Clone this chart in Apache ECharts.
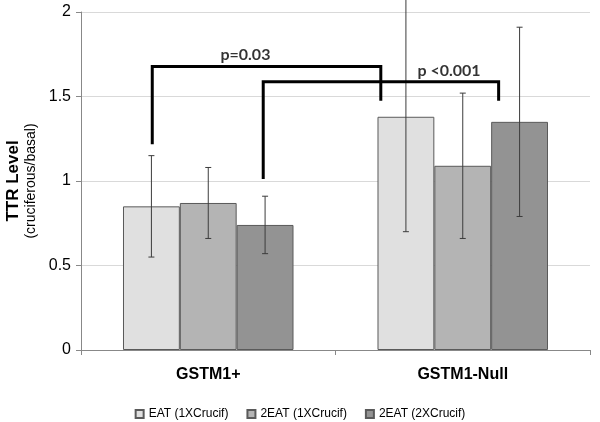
<!DOCTYPE html>
<html><head><meta charset="utf-8">
<script src="https://cdn.jsdelivr.net/npm/echarts@6/dist/echarts.min.js"></script>
<style>html,body{margin:0;padding:0;background:#fff}#c{width:600px;height:422px}</style>
</head><body><div id="c"></div>
<script>
// ---- data ----
const categories = ['GSTM1+', 'GSTM1-Null'];
const seriesNames = ['EAT (1XCrucif)', '2EAT (1XCrucif)', '2EAT (2XCrucif)'];
const eat1x   = [0.85, 1.38];
const eat2x1x = [0.87, 1.09];
const eat2x2x = [0.74, 1.35];
const errLow_eat1x   = [0.55, 0.70];
const errHigh_eat1x  = [1.15, 2.08];
const errLow_eat2x1x  = [0.66, 0.66];
const errHigh_eat2x1x = [1.08, 1.52];
const errLow_eat2x2x  = [0.57, 0.79];
const errHigh_eat2x2x = [0.91, 1.91];
const yTicks = [0, 0.5, 1, 1.5, 2];
// significance brackets: [x along categories (0..2), y value]
const bracket1 = [[0.280, 1.217], [0.280, 1.677], [1.178, 1.677], [1.178, 1.475]];
const bracket2 = [[0.716, 1.012], [0.716, 1.588], [1.641, 1.588], [1.641, 1.475]];
const bracketLabels = [['p=0.03', 0.646, 1.746], ['p <0.001', 1.446, 1.653]];

// ---- build ----
const values = [eat1x, eat2x1x, eat2x2x];
const lows = [errLow_eat1x, errLow_eat2x1x, errLow_eat2x2x];
const highs = [errHigh_eat1x, errHigh_eat2x1x, errHigh_eat2x2x];
const colors = ['#e0e0e0', '#b4b4b4', '#939393'];
const FONT = "'Liberation Sans', Arial, sans-serif";
const CAT_GAP = 0.33;

const errData = [];
for (let k = 0; k < 3; k++) for (let c = 0; c < categories.length; c++) errData.push([c, k, lows[k][c], highs[k][c]]);

const chart = echarts.init(document.getElementById('c'), null, {renderer: 'canvas'});
const barSeries = seriesNames.map((n, k) => ({
  name: n, type: 'bar', data: values[k], barGap: '0%', barCategoryGap: (CAT_GAP * 100) + '%',
  itemStyle: {color: colors[k], borderColor: '#5a5a5a', borderWidth: 1}, silent: true
}));

chart.setOption({
  animation: false,
  textStyle: {fontFamily: FONT},
  grid: {left: 81, right: 10, top: 12, bottom: 72, containLabel: false, outerBoundsMode: 'none'},
  legend: {
    data: seriesNames.map(n => ({name: n, icon: 'rect'})), left: 'center', top: 403,
    itemWidth: 8, itemHeight: 8, itemGap: 18,
    textStyle: {fontSize: 12, color: '#000', fontFamily: FONT}
  },
  xAxis: [{
    type: 'category', data: categories,
    axisLine: {lineStyle: {color: '#888'}},
    axisTick: {show: true, length: 5, lineStyle: {color: '#888'}},
    axisLabel: {fontSize: 16, fontWeight: 'bold', color: '#000', margin: 17, fontFamily: FONT}
  }, {
    type: 'value', min: 0, max: 2, show: false
  }],
  yAxis: {
    type: 'value', min: yTicks[0], max: yTicks[yTicks.length - 1], interval: yTicks[1] - yTicks[0],
    axisLine: {show: true, lineStyle: {color: '#888'}},
    axisTick: {show: true, length: 5, lineStyle: {color: '#888'}},
    splitLine: {lineStyle: {color: '#d9d9d9'}},
    axisLabel: {fontSize: 16, color: '#000', margin: 10, fontFamily: FONT},
    name: '{a|TTR Level}\n{b|(cruciferous/basal)}',
    nameLocation: 'middle', nameRotate: 90, nameGap: 41,
    nameTextStyle: {rich: {
      a: {fontSize: 17, fontWeight: 'bold', color: '#000', fontFamily: FONT, lineHeight: 19},
      b: {fontSize: 14, color: '#000', fontFamily: FONT, lineHeight: 16}
    }}
  },
  series: [
    ...barSeries,
    {
      type: 'custom', silent: true, clip: false, z: 5,
      data: errData, encode: {x: 0, y: [2, 3]},
      renderItem: function (params, api) {
        const ci = api.value(0), k = api.value(1), lo = api.value(2), hi = api.value(3);
        const band = api.size([1, 0])[0];
        const bw = band * (1 - CAT_GAP) / 3;
        const pLo = api.coord([ci, lo]);
        const pHi = api.coord([ci, hi]);
        const x = pLo[0] + (k - 1) * bw;
        const cap = 3;
        const st = {stroke: '#3c3c3c', lineWidth: 1};
        return {type: 'group', children: [
          {type: 'line', shape: {x1: x, y1: pLo[1], x2: x, y2: pHi[1]}, style: st},
          {type: 'line', shape: {x1: x - cap, y1: pLo[1], x2: x + cap, y2: pLo[1]}, style: st},
          {type: 'line', shape: {x1: x - cap, y1: pHi[1], x2: x + cap, y2: pHi[1]}, style: st}
        ]};
      }
    },
    ...[bracket1, bracket2].map(b => ({
      type: 'line', xAxisIndex: 1, data: b, symbol: 'none', silent: true, z: 6,
      lineStyle: {color: '#000', width: 3, join: 'miter'}
    })),
    {
      type: 'scatter', xAxisIndex: 1, symbolSize: 0, silent: true, z: 7,
      data: bracketLabels.map(l => ({name: l[0], value: [l[1], l[2]]})),
      label: {show: true, position: 'inside', formatter: p => p.name,
        fontSize: 16, fontWeight: 'bold', color: '#000', fontFamily: "Lato, 'Open Sans', sans-serif"}
    }
  ]
});
</script></body></html>
